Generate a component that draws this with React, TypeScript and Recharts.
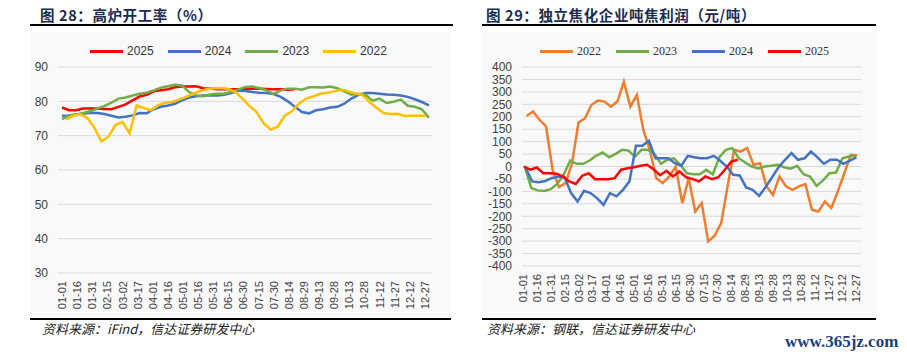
import { CartesianGrid, Line, LineChart, XAxis, YAxis } from "recharts";

// x axis labels, one every 15 days (day-of-year 0, 15, 30 ...)
const tickLabels = [
  "01-01", "01-16", "01-31", "02-15", "03-02", "03-17", "04-01", "04-16", "05-01",
  "05-16", "05-31", "06-15", "06-30", "07-15", "07-30", "08-14", "08-29", "09-13",
  "09-28", "10-13", "10-28", "11-12", "11-27", "12-12", "12-27",
];

// 高炉开工率 (%), weekly
const bf2025 = [
  78.2, 77.4, 77.4, 77.9, 77.9, 77.9, 77.8, 77.7, 78.4, 79.1, 80.3, 81.4, 81.9, 82.9,
  83.2, 83.5, 84.1, 84.3, 84.3, 84.4, 83.8, 83.7, 83.5, 83.5, 83.5, 83.5, 83.6, 83.7,
  83.7, 83.6, 83.5, 83.5, 83.4, 83.5,
];
const bf2024 = [
  75.8, 75.9, 76.2, 76.4, 76.7, 76.6, 76.3, 75.8, 75.3, 75.5, 75.9, 76.6, 76.5, 77.7,
  78.4, 78.8, 79.3, 80.3, 81.1, 81.5, 81.7, 81.7, 81.7, 81.9, 82.4, 83.1, 83.0, 82.7,
  82.5, 82.4, 82.1, 81.3, 80.0, 78.4, 76.9, 76.5, 77.4, 77.7, 78.2, 78.4, 79.3, 80.8,
  81.9, 82.4, 82.4, 82.2, 82.0, 81.9, 81.7, 81.3, 80.6, 79.8, 78.8,
];
const bf2023 = [
  74.8, 75.8, 76.2, 76.6, 77.1, 77.9, 78.6, 79.6, 80.8, 81.1, 81.7, 82.2, 82.5, 83.2,
  84.0, 84.4, 84.8, 84.6, 82.7, 81.7, 81.5, 82.0, 82.2, 82.2, 82.7, 83.5, 84.2, 84.3,
  83.8, 83.2, 82.2, 83.2, 83.7, 83.7, 83.4, 84.1, 84.1, 84.0, 84.3, 83.8, 82.9, 81.9,
  82.2, 81.9, 80.2, 80.8, 79.5, 79.9, 80.5, 78.7, 78.4, 77.7, 75.2,
];
const bf2022 = [
  74.7, 75.8, 76.2, 75.2, 72.3, 68.3, 69.7, 73.1, 74.0, 70.7, 78.8, 78.1, 77.4, 78.8,
  79.6, 79.8, 80.5, 81.3, 82.2, 83.0, 83.5, 83.8, 83.8, 83.7, 82.7, 80.8, 78.6, 76.9,
  73.6, 71.8, 72.6, 75.8, 77.1, 79.3, 80.8, 81.4, 82.2, 82.5, 82.9, 83.4, 82.9, 82.3,
  81.9, 79.8, 78.1, 76.6, 76.3, 76.4, 75.7, 75.8, 75.8, 75.8,
];

// 独立焦化企业吨焦利润 (元/吨), weekly
const coke2022 = [
  203, 221, 187, 161, -13, -83, -67, 13, 177, 194, 248, 265, 261, 241, 261, 341, 241,
  288, 147, 67, -47, -67, -40, 0, -147, -47, -181, -147, -301, -278, -228, -80, 67, 60,
  74, 7, 13, -80, -114, -40, -80, -94, -80, -71, -174, -181, -141, -167, -100, -27, 47,
  44,
];
const coke2023 = [
  0, -87, -96, -98, -91, -70, -33, 23, 11, 11, 24, 43, 56, 37, 51, 67, 64, 40, 67, 67,
  51, 11, 27, 33, 7, -27, -31, -31, -13, -31, 37, 67, 74, 33, 16, 0, -8, 0, 3, 7, -3,
  -9, 3, -31, -40, -78, -56, -27, -24, 33, 40, 44,
];
const coke2024 = [
  -5, -60, -63, -58, -47, -40, -43, -107, -141, -98, -107, -127, -154, -107, -120, -94,
  -60, 83, 83, 103, 33, 33, 33, 13, 3, 43, 37, 33, 33, 43, 23, 0, -33, -36, -84, -94,
  -118, -83, -43, -3, 27, 54, 27, 33, 60, 37, 11, 27, 27, 11, 24, 37,
];
const coke2025 = [
  0, -13, -4, -27, -27, -29, -40, -60, -70, -37, -27, -51, -51, -51, -47, -13, -7, -3,
  3, 7, -11, -35, -17, -40, -20, -43, -50, -60, -40, -51, -43, -13, 20, 27,
];

const bfTicks = [30, 40, 50, 60, 70, 80, 90];
const cokeTicks = [
  -400, -350, -300, -250, -200, -150, -100, -50, 0, 50, 100, 150, 200, 250, 300, 350, 400,
];

type Series = { key: string; name: string; color: string; first: number; values: number[] };

const bfSeries: Series[] = [
  { key: "y2025", name: "2025", color: "#ff0000", first: 0, values: bf2025 },
  { key: "y2024", name: "2024", color: "#4472c4", first: 0, values: bf2024 },
  { key: "y2023", name: "2023", color: "#70ad47", first: 0, values: bf2023 },
  { key: "y2022", name: "2022", color: "#ffc000", first: 4, values: bf2022 },
];

const cokeSeries: Series[] = [
  { key: "y2022", name: "2022", color: "#ed7d31", first: 4, values: coke2022 },
  { key: "y2023", name: "2023", color: "#70ad47", first: 2, values: coke2023 },
  { key: "y2024", name: "2024", color: "#4472c4", first: 3, values: coke2024 },
  { key: "y2025", name: "2025", color: "#ff0000", first: 1, values: coke2025 },
];

const tickDays = tickLabels.map((_, i) => i * 15);

function buildRows(series: Series[]) {
  const byDay = new Map<number, Record<string, number>>();
  series.forEach((s) => {
    s.values.forEach((v, i) => {
      const day = s.first + i * 7;
      const row = byDay.get(day) ?? { day };
      row[s.key] = v;
      byDay.set(day, row);
    });
  });
  return [...byDay.values()].sort((a, b) => a.day - b.day);
}

const sans = "'Liberation Sans', Arial, sans-serif";
const cjk = "'Noto Sans CJK SC', sans-serif";
const tickColor = "#404040";

function DayTick(props: any) {
  const { x, y, payload } = props;
  const label = tickLabels[tickDays.indexOf(payload.value)] ?? "";
  return (
    <text
      x={x}
      y={y}
      dy={4}
      transform={`rotate(-90 ${x} ${y})`}
      textAnchor="end"
      fontSize={11}
      fontFamily={sans}
      fill={tickColor}
    >
      {label}
    </text>
  );
}

function LegendRow({
  series,
  left,
  gap,
  font,
}: {
  series: Series[];
  left: number;
  gap: number;
  font: string;
}) {
  return (
    <div
      style={{
        position: "absolute",
        left,
        top: 44,
        height: 14,
        display: "flex",
        alignItems: "center",
      }}
    >
      {series.map((s) => (
        <div key={s.key} style={{ display: "flex", alignItems: "center", marginRight: gap }}>
          <span style={{ display: "inline-block", width: 33, height: 3, background: s.color }} />
          <span style={{ marginLeft: 4, fontSize: 12, fontFamily: font, color: "#333", lineHeight: "14px" }}>
            {s.name}
          </span>
        </div>
      ))}
    </div>
  );
}

function Panel({ left, width }: { left: number; width: number }) {
  return (
    <div style={{ position: "absolute", left, top: 32, width, height: 285, background: "#f9f9f9" }} />
  );
}

function Rule({ left, width, top }: { left: number; width: number; top: number }) {
  return <div style={{ position: "absolute", left, top, width, height: 2, background: "#000" }} />;
}

const titleStyle = {
  position: "absolute" as const,
  top: 6,
  fontSize: 14.5,
  fontWeight: 700,
  fontFamily: cjk,
  color: "#1c2b4f",
  lineHeight: "18px",
  letterSpacing: 0.6,
  whiteSpace: "nowrap" as const,
};

const sourceStyle = {
  position: "absolute" as const,
  top: 321,
  fontSize: 13,
  fontStyle: "italic" as const,
  fontFamily: cjk,
  color: "#222",
  lineHeight: "16px",
  whiteSpace: "nowrap" as const,
};

export default function App() {
  const bfRows = buildRows(bfSeries);
  const cokeRows = buildRows(cokeSeries);

  return (
    <div
      style={{
        position: "absolute",
        left: 0,
        top: 0,
        width: 907,
        height: 357,
        background: "#fff",
        overflow: "hidden",
      }}
    >
      <Panel left={31} width={420} />
      <Panel left={482} width={395} />

      <div style={{ ...titleStyle, left: 40 }}>图 28：高炉开工率（%）</div>
      <div style={{ ...titleStyle, left: 486 }}>图 29：独立焦化企业吨焦利润（元/吨）</div>
      <Rule left={30} width={423} top={24} />
      <Rule left={482} width={394} top={24} />

      <LegendRow series={bfSeries} left={90} gap={14} font={sans} />
      <LegendRow series={cokeSeries} left={540} gap={15} font="'Liberation Serif', serif" />

      <div style={{ position: "absolute", left: 0, top: 0 }}>
        <LineChart
          width={450}
          height={320}
          data={bfRows}
          margin={{ top: 67, right: 18, bottom: 7, left: 0 }}
        >
          <CartesianGrid vertical={false} stroke="#d9d9d9" />
          <XAxis
            type="number"
            dataKey="day"
            domain={[-4, 367]}
            ticks={tickDays}
            interval={0}
            tick={<DayTick />}
            axisLine={false}
            tickLine={false}
            height={40}
          />
          <YAxis
            domain={[30, 90]}
            ticks={bfTicks}
            interval={0}
            width={58}
            tickMargin={4}
            axisLine={false}
            tickLine={false}
            tick={{ fontSize: 12, fill: tickColor, fontFamily: sans }}
          />
          {bfSeries.map((s) => (
            <Line
              key={s.key}
              type="linear"
              dataKey={s.key}
              stroke={s.color}
              strokeWidth={2.5}
              dot={false}
              connectNulls
              isAnimationActive={false}
            />
          ))}
        </LineChart>
      </div>

      <div style={{ position: "absolute", left: 455, top: 0 }}>
        <LineChart
          width={420}
          height={320}
          data={cokeRows}
          margin={{ top: 67, right: 14, bottom: 14, left: 0 }}
        >
          <CartesianGrid vertical={false} stroke="#d9d9d9" />
          <XAxis
            type="number"
            dataKey="day"
            domain={[-1, 365]}
            ticks={tickDays}
            interval={0}
            tick={<DayTick />}
            axisLine={false}
            tickLine={false}
            height={40}
          />
          <YAxis
            domain={[-400, 400]}
            ticks={cokeTicks}
            interval={0}
            width={67}
            tickMargin={4}
            axisLine={false}
            tickLine={false}
            tick={{ fontSize: 12, fill: tickColor, fontFamily: sans }}
          />
          {cokeSeries.map((s) => (
            <Line
              key={s.key}
              type="linear"
              dataKey={s.key}
              stroke={s.color}
              strokeWidth={2.5}
              dot={false}
              connectNulls
              isAnimationActive={false}
            />
          ))}
        </LineChart>
      </div>

      <Rule left={30} width={421} top={318} />
      <Rule left={482} width={394} top={318} />
      <div style={{ ...sourceStyle, left: 42 }}>资料来源：iFind，信达证券研发中心</div>
      <div style={{ ...sourceStyle, left: 487 }}>资料来源：钢联，信达证券研发中心</div>

      <div
        style={{
          position: "absolute",
          left: 785,
          top: 332,
          fontSize: 17,
          fontWeight: 700,
          fontFamily: "'Liberation Serif', serif",
          color: "#1f3f7f",
          lineHeight: "20px",
        }}
      >
        www.365jz.com
      </div>
    </div>
  );
}
